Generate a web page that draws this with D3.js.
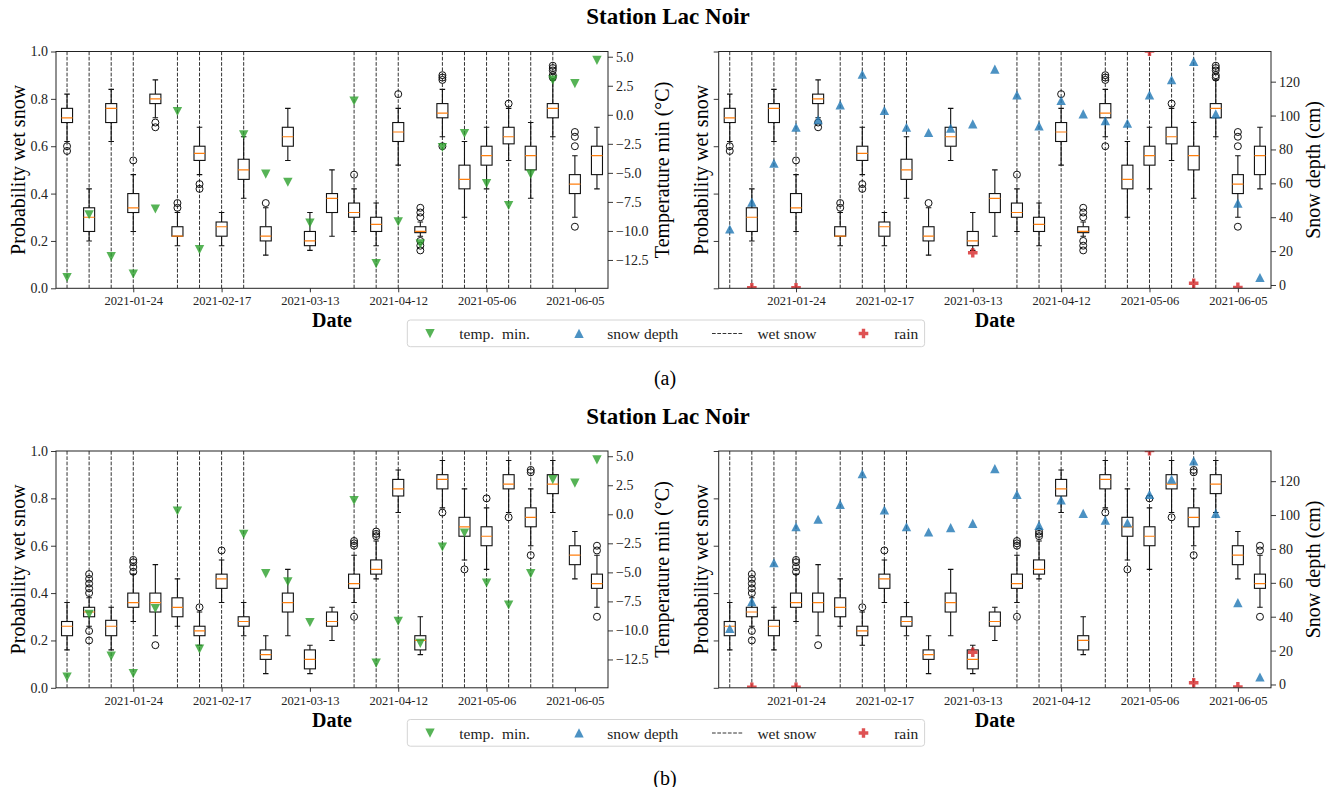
<!DOCTYPE html>
<html>
<head>
<meta charset="utf-8">
<script src="https://cdn.jsdelivr.net/npm/d3@7"></script>
<style>
  body { margin: 0; background: #fff; }
  text { font-family: "Liberation Serif", "DejaVu Serif", serif; }
</style>
</head>
<body>
<script>
// categories: one box per observation date (x positions 1..25)
const categories = [1, 2, 3, 4, 5, 6, 7, 8, 9, 10, 11, 12, 13, 14, 15, 16, 17, 18, 19, 20, 21, 22, 23, 24, 25];
const tickCats = [4, 8, 12, 16, 20, 24];
const tickLabels = ['2021-01-24', '2021-02-17', '2021-03-13', '2021-04-12', '2021-05-06', '2021-06-05'];

// dates flagged as wet snow (dashed lines)
const wetSnow = [1, 2, 3, 4, 6, 7, 8, 9, 14, 15, 16, 18, 19, 20, 21, 22, 23];

// overlays
const tempMin = [-14.0, -8.6, -12.2, -13.7, -8.1, 0.3, -11.6, null, -1.7, -5.1, -5.8, -9.3, null,
                 1.2, -12.8, -9.2, -11.1, -2.8, -1.6, -5.9, -7.8, -5.1, 3.0, 2.7, 4.7];
const snowDepth = [33.0, 48.8, 71.8, 93.0, 97.4, 106.2, 124.3, 102.9, 93.0, 89.9, 92.5, 95.0, 127.3,
                   112.1, 93.8, 108.8, 100.9, 96.8, 95.4, 112.1, 121.0, 131.8, 100.9, 48.2, 4.3];
const rain = [null, -1.6, null, -1.6, null, null, null, null, null, null, null, 19.0, null,
              null, null, null, null, null, null, 138.0, null, 1.0, null, -1.4, null];

// box stats per date: [whisker low, q1, median, q3, whisker high]
const boxesA = [
  [0.62, 0.70, 0.72, 0.76, 0.82], [0.20, 0.24, 0.30, 0.34, 0.42], [0.62, 0.70, 0.76, 0.78, 0.84],
  [0.24, 0.32, 0.34, 0.40, 0.48], [0.72, 0.78, 0.80, 0.82, 0.88], [0.18, 0.22, 0.22, 0.26, 0.32],
  [0.48, 0.54, 0.57, 0.60, 0.68], [0.18, 0.22, 0.26, 0.28, 0.32], [0.38, 0.46, 0.50, 0.545, 0.64],
  [0.14, 0.20, 0.22, 0.26, 0.34], [0.54, 0.60, 0.64, 0.68, 0.76], [0.16, 0.18, 0.20, 0.24, 0.32],
  [0.22, 0.32, 0.38, 0.40, 0.50], [0.24, 0.30, 0.32, 0.36, 0.42], [0.18, 0.24, 0.27, 0.30, 0.36],
  [0.52, 0.62, 0.66, 0.70, 0.76], [0.22, 0.235, 0.24, 0.26, 0.28], [0.64, 0.72, 0.74, 0.78, 0.84],
  [0.30, 0.42, 0.46, 0.52, 0.62], [0.42, 0.52, 0.56, 0.60, 0.68], [0.54, 0.61, 0.64, 0.68, 0.76],
  [0.38, 0.50, 0.56, 0.60, 0.70], [0.64, 0.72, 0.76, 0.78, 0.88], [0.30, 0.40, 0.44, 0.48, 0.56],
  [0.42, 0.48, 0.56, 0.60, 0.68]
];
const outliersA = [
  [0.60, 0.58], [], [], [0.54], [0.70, 0.68], [0.36, 0.34], [0.44, 0.42], [], [], [0.36], [], [], [],
  [0.48], [], [0.82], [0.34, 0.32, 0.30, 0.20, 0.18, 0.16], [0.90, 0.89, 0.88, 0.60], [], [], [0.78], [],
  [0.94, 0.93, 0.92, 0.90, 0.89], [0.66, 0.64, 0.60, 0.26], []
];

const boxesB = [
  [0.16, 0.22, 0.26, 0.28, 0.36], [0.26, 0.30, 0.32, 0.34, 0.38], [0.16, 0.22, 0.26, 0.285, 0.34],
  [0.28, 0.34, 0.36, 0.40, 0.48], [0.22, 0.32, 0.36, 0.40, 0.52], [0.26, 0.30, 0.34, 0.38, 0.46],
  [0.18, 0.22, 0.24, 0.26, 0.32], [0.36, 0.42, 0.46, 0.48, 0.54], [0.22, 0.26, 0.28, 0.30, 0.36],
  [0.06, 0.12, 0.14, 0.16, 0.22], [0.22, 0.32, 0.36, 0.40, 0.50], [0.06, 0.08, 0.12, 0.16, 0.18],
  [0.20, 0.26, 0.28, 0.32, 0.34], [0.36, 0.42, 0.44, 0.48, 0.56], [0.46, 0.48, 0.50, 0.54, 0.62],
  [0.74, 0.81, 0.84, 0.88, 0.92], [0.14, 0.16, 0.20, 0.22, 0.30], [0.76, 0.84, 0.88, 0.90, 0.96],
  [0.54, 0.64, 0.68, 0.72, 0.84], [0.50, 0.60, 0.64, 0.68, 0.76], [0.74, 0.84, 0.86, 0.90, 0.96],
  [0.60, 0.68, 0.72, 0.76, 0.84], [0.74, 0.82, 0.86, 0.90, 0.96], [0.46, 0.52, 0.56, 0.60, 0.66],
  [0.34, 0.42, 0.44, 0.48, 0.56]
];
const outliersB = [
  [], [0.48, 0.46, 0.44, 0.42, 0.40, 0.24, 0.20], [], [0.54, 0.53, 0.51, 0.49], [0.18], [], [0.34], [0.58],
  [], [], [], [], [], [0.62, 0.61, 0.60, 0.30], [0.66, 0.65, 0.64], [], [], [0.74], [0.50], [0.80], [0.72],
  [0.92, 0.91, 0.56], [], [], [0.60, 0.58, 0.30]
];

const width = 1336, height = 787;
const colGreen = '#2ca02c', colBlue = '#1f77b4', colRed = '#d62728', colOrange = '#ff7f0e';

const svg = d3.select('body').append('svg')
  .attr('width', width)
  .attr('height', height);

const downTri = 'M-4.7,-4.4L4.7,-4.4L0,4.7Z';
const upTri = 'M-4.7,4.4L4.7,4.4L0,-4.7Z';
const plusPath = 'M-1.7,-4.8H1.7V-1.7H4.8V1.7H1.7V4.8H-1.7V1.7H-4.8V-1.7H-1.7Z';

function styleAxis(g, size) {
  g.select('.domain').remove();
  g.selectAll('line').attr('stroke', '#222').attr('stroke-width', 0.9);
  g.selectAll('text').attr('fill', '#222').attr('font-size', size + 'px')
    .attr('font-family', '"Liberation Serif", serif');
}

function drawPanel(xr, yOff, stats, outs, side) {
  const top = 51.5 + yOff, bottom = 288.3 + yOff;
  const x = d3.scalePoint().domain(categories).range(xr).padding(0.5);
  const step = x.step();
  const y = d3.scaleLinear().domain([0, 1]).range([bottom, top]);
  const yTemp = d3.scaleLinear().domain([-14.94, 5.45]).range([bottom, top]);
  const ySnow = d3.scaleLinear().domain([-1.95, 137.8]).range([bottom, top]);

  const g = svg.append('g');
  const clipId = 'clip' + Math.round(xr[0]) + '_' + Math.round(yOff);
  g.append('clipPath').attr('id', clipId)
    .append('rect').attr('x', xr[0]).attr('y', top).attr('width', xr[1] - xr[0]).attr('height', bottom - top);

  const plot = g.append('g').attr('clip-path', `url(#${clipId})`);

  // wet snow dashed lines
  plot.selectAll('line.wet')
    .data(wetSnow)
    .join('line')
      .attr('class', 'wet')
      .attr('x1', d => x(d)).attr('x2', d => x(d))
      .attr('y1', top).attr('y2', bottom)
      .attr('stroke', '#333')
      .attr('stroke-width', 1)
      .attr('stroke-dasharray', '3.7,1.6');

  // boxplots
  const boxes = plot.selectAll('g.box')
    .data(stats.map((s, i) => ({ c: categories[i], s: s, o: outs[i] })))
    .join('g')
      .attr('class', 'box');

  boxes.append('line')
    .attr('x1', d => x(d.c)).attr('x2', d => x(d.c))
    .attr('y1', d => y(d.s[0])).attr('y2', d => y(d.s[1]))
    .attr('stroke', '#111').attr('stroke-width', 1.1);
  boxes.append('line')
    .attr('x1', d => x(d.c)).attr('x2', d => x(d.c))
    .attr('y1', d => y(d.s[3])).attr('y2', d => y(d.s[4]))
    .attr('stroke', '#111').attr('stroke-width', 1.1);
  [0, 4].forEach(k => {
    boxes.append('line')
      .attr('x1', d => x(d.c) - step * 0.125).attr('x2', d => x(d.c) + step * 0.125)
      .attr('y1', d => y(d.s[k])).attr('y2', d => y(d.s[k]))
      .attr('stroke', '#111').attr('stroke-width', 1.1);
  });
  boxes.append('rect')
    .attr('x', d => x(d.c) - step * 0.25)
    .attr('width', step * 0.5)
    .attr('y', d => y(d.s[3]))
    .attr('height', d => y(d.s[1]) - y(d.s[3]))
    .attr('fill', '#fff')
    .attr('stroke', '#111').attr('stroke-width', 1.1);
  boxes.append('line')
    .attr('x1', d => x(d.c) - step * 0.25).attr('x2', d => x(d.c) + step * 0.25)
    .attr('y1', d => y(d.s[2])).attr('y2', d => y(d.s[2]))
    .attr('stroke', colOrange).attr('stroke-width', 1.2);
  boxes.selectAll('circle')
    .data(d => d.o.map(v => ({ c: d.c, v: v })))
    .join('circle')
      .attr('cx', d => x(d.c))
      .attr('cy', d => y(d.v))
      .attr('r', 3.5)
      .attr('fill', 'none')
      .attr('stroke', '#111')
      .attr('stroke-width', 1);

  if (side === 'temp') {
    plot.selectAll('path.temp')
      .data(categories.map((c, i) => ({ c: c, v: tempMin[i] })).filter(d => d.v !== null))
      .join('path')
        .attr('class', 'temp')
        .attr('d', downTri)
        .attr('transform', d => `translate(${x(d.c)},${yTemp(d.v)})`)
        .attr('fill', colGreen).attr('fill-opacity', 0.8);
  } else {
    plot.selectAll('path.snow')
      .data(categories.map((c, i) => ({ c: c, v: snowDepth[i] })))
      .join('path')
        .attr('class', 'snow')
        .attr('d', upTri)
        .attr('transform', d => `translate(${x(d.c)},${ySnow(d.v)})`)
        .attr('fill', colBlue).attr('fill-opacity', 0.8);
    plot.selectAll('path.rain')
      .data(categories.map((c, i) => ({ c: c, v: rain[i] })).filter(d => d.v !== null))
      .join('path')
        .attr('class', 'rain')
        .attr('d', plusPath)
        .attr('transform', d => `translate(${x(d.c)},${ySnow(d.v)})`)
        .attr('fill', colRed).attr('fill-opacity', 0.8);
  }

  // frame
  g.append('rect')
    .attr('x', xr[0]).attr('y', top)
    .attr('width', xr[1] - xr[0]).attr('height', bottom - top)
    .attr('fill', 'none').attr('stroke', '#222').attr('stroke-width', 1);

  // axes
  g.append('g')
    .attr('transform', `translate(0,${bottom})`)
    .call(d3.axisBottom(x).tickValues(tickCats)
      .tickFormat(c => tickLabels[tickCats.indexOf(c)]).tickSize(4).tickPadding(4))
    .call(a => styleAxis(a, 12.5));

  g.append('g')
    .attr('transform', `translate(${xr[0]},0)`)
    .call(d3.axisLeft(y).tickValues([0, 0.2, 0.4, 0.6, 0.8, 1.0])
      .tickFormat(side === 'temp' ? d3.format('.1f') : () => '').tickSize(5).tickPadding(3))
    .call(a => styleAxis(a, 14));

  if (side === 'temp') {
    g.append('g')
      .attr('transform', `translate(${xr[1]},0)`)
      .call(d3.axisRight(yTemp).tickValues([-12.5, -10, -7.5, -5, -2.5, 0, 2.5, 5])
        .tickFormat(d3.format('.1f')).tickSize(5).tickPadding(3))
      .call(a => styleAxis(a, 14));
  } else {
    g.append('g')
      .attr('transform', `translate(${xr[1]},0)`)
      .call(d3.axisRight(ySnow).tickValues([0, 20, 40, 60, 80, 100, 120])
        .tickSize(5).tickPadding(3))
      .call(a => styleAxis(a, 14));
  }

  // axis titles
  const midY = (top + bottom) / 2;
  g.append('text')
    .attr('x', (xr[0] + xr[1]) / 2)
    .attr('y', 327 + yOff)
    .attr('text-anchor', 'middle')
    .attr('font-size', '20px')
    .attr('font-weight', 'bold')
    .text('Date');

  g.append('text')
    .attr('transform', `translate(${xr[0] - (side === 'temp' ? 38 : 18)},${midY}) rotate(-90)`)
    .attr('text-anchor', 'middle')
    .attr('dy', '0.35em')
    .attr('font-size', '20px')
    .text('Probability wet snow');

  g.append('text')
    .attr('transform', `translate(${xr[1] + (side === 'temp' ? 54 : 42)},${midY}) rotate(-90)`)
    .attr('text-anchor', 'middle')
    .attr('dy', '0.35em')
    .attr('font-size', '20px')
    .text(side === 'temp' ? 'Temperature min (°C)' : 'Snow depth (cm)');
}

function drawLegend(yOff, caption) {
  const g = svg.append('g').attr('transform', `translate(0,${yOff})`);
  g.append('rect')
    .attr('x', 407.3).attr('y', 320)
    .attr('width', 517.3).attr('height', 26.7)
    .attr('rx', 3)
    .attr('fill', '#fff').attr('stroke', '#d4d4d4').attr('stroke-width', 1);
  const ty = 339;
  g.append('path').attr('d', downTri).attr('transform', 'translate(430,333.5)')
    .attr('fill', colGreen).attr('fill-opacity', 0.8);
  g.append('text').attr('x', 459.3).attr('y', ty).attr('font-size', '15.5px').attr('fill', '#222')
    .style('white-space', 'pre').text('temp.  min.');
  g.append('path').attr('d', upTri).attr('transform', 'translate(579,333.5)')
    .attr('fill', colBlue).attr('fill-opacity', 0.8);
  g.append('text').attr('x', 607.3).attr('y', ty).attr('font-size', '15.5px').attr('fill', '#222').text('snow depth');
  g.append('line').attr('x1', 712).attr('x2', 743.3).attr('y1', 333.5).attr('y2', 333.5)
    .attr('stroke', '#333').attr('stroke-width', 1).attr('stroke-dasharray', '3.7,1.6');
  g.append('text').attr('x', 757.4).attr('y', ty).attr('font-size', '15.5px').attr('fill', '#222').text('wet snow');
  g.append('path').attr('d', plusPath).attr('transform', 'translate(863.5,333.5)')
    .attr('fill', colRed).attr('fill-opacity', 0.8);
  g.append('text').attr('x', 918.3).attr('y', ty).attr('text-anchor', 'end')
    .attr('font-size', '15.5px').attr('fill', '#222').text('rain');

  g.append('text')
    .attr('x', 665).attr('y', 385)
    .attr('text-anchor', 'middle')
    .attr('font-size', '20px')
    .text(caption);
}

function drawRow(yOff, stats, outs, caption) {
  svg.append('text')
    .attr('x', 668).attr('y', 24 + yOff)
    .attr('text-anchor', 'middle')
    .attr('font-size', '23px')
    .attr('font-weight', 'bold')
    .text('Station Lac Noir');
  drawPanel([56, 608], yOff, stats, outs, 'temp');
  drawPanel([718.7, 1271], yOff, stats, outs, 'snow');
  drawLegend(yOff, caption);
}

drawRow(0, boxesA, outliersA, '(a)');
drawRow(399.5, boxesB, outliersB, '(b)');
</script>
</body>
</html>
